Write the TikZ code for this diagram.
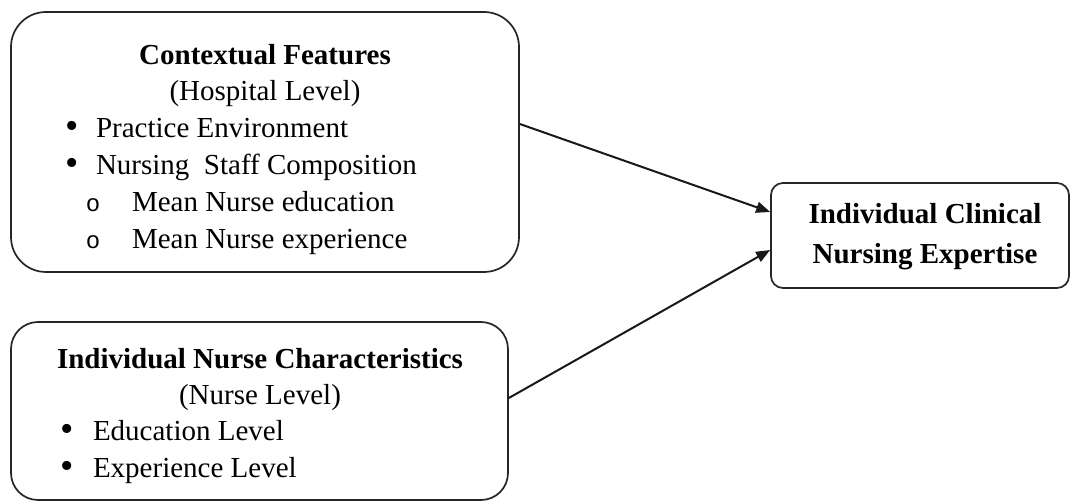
\documentclass[tikz,border=0pt]{standalone}
\usepackage{fontspec}
\setmainfont{Liberation Serif}
\newfontfamily\monofnt{Liberation Mono}
\usetikzlibrary{arrows.meta}
\tikzset{
  box/.style={draw=black!85, line width=1.7pt, inner sep=0pt, fill=white},
  txt/.style={inner sep=0pt, outer sep=0pt, font=\fontsize{29}{35}\selectfont},
  ttl/.style={txt, font=\fontsize{29}{35}\selectfont\bfseries},
  bul/.style={inner sep=0pt, outer sep=0pt, anchor=center, font=\fontsize{38}{40}\selectfont},
  cir/.style={inner sep=0pt, outer sep=0pt, anchor=center, font=\monofnt\fontsize{24}{26}\selectfont},
  arr/.style={line width=2pt, black!90, -{Triangle[length=14pt,width=11pt]}}
}
\begin{document}
\begin{tikzpicture}[x=1pt,y=-1pt]
\fill[white] (0,0) rectangle (1072,502);
\useasboundingbox (0,0) rectangle (1072,502);
% boxes
\node[box, minimum width=508pt, minimum height=260pt, rounded corners=35pt] (b1) at (265,142) {};
\node[box, minimum width=497pt, minimum height=178pt, rounded corners=27pt] (b2) at (259.5,411) {};
\node[box, minimum width=298pt, minimum height=105pt, rounded corners=12pt] (b3) at (920,235.5) {};
% box 1 text
\node[ttl, anchor=base] (t1) at (265,65) {Contextual Features};
\node[txt, anchor=base] (t1s) at (265,101) {(Hospital Level)};
\node[bul] (t1b1) at (72,130) {•};
\node[txt, anchor=base west] (t1l1) at (96,138) {Practice Environment};
\node[bul] (t1b2) at (72,167) {•};
\node[txt, anchor=base west] (t1l2) at (96,175) {Nursing\ \ Staff Composition};
\node[cir] (t1c1) at (93,205) {o};
\node[txt, anchor=base west] (t1l3) at (132,212) {Mean Nurse education};
\node[cir] (t1c2) at (93,242) {o};
\node[txt, anchor=base west] (t1l4) at (132,249) {Mean Nurse experience};
% box 2 text
\node[ttl, anchor=base] (t2) at (260,369) {Individual Nurse Characteristics};
\node[txt, anchor=base] (t2s) at (260,405) {(Nurse Level)};
\node[bul] (t2b1) at (67,433) {•};
\node[txt, anchor=base west] (t2l1) at (93,441) {Education Level};
\node[bul] (t2b2) at (67,470) {•};
\node[txt, anchor=base west] (t2l2) at (93,478) {Experience Level};
% box 3 text
\node[ttl, anchor=base] (t3a) at (925,224) {Individual Clinical};
\node[ttl, anchor=base] (t3b) at (925,264) {Nursing Expertise};
% arrows
\draw[arr] ([yshift=18pt]b1.east) -- ([yshift=23.5pt]b3.west);
\draw[arr] ([yshift=13pt]b2.east) -- ([yshift=-14.5pt]b3.west);
\end{tikzpicture}
\end{document}
